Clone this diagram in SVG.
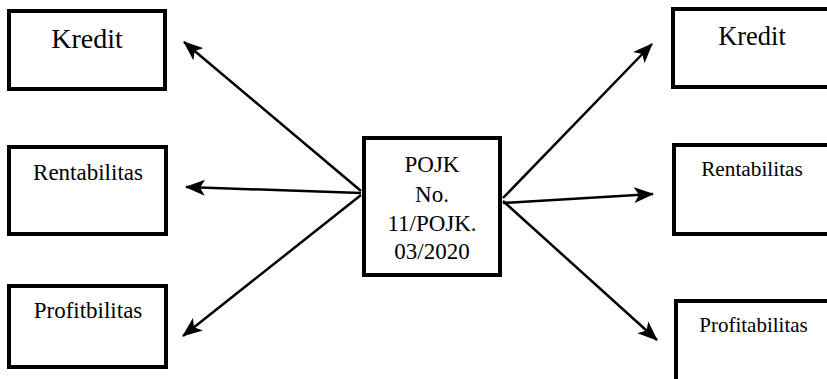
<svg xmlns="http://www.w3.org/2000/svg" width="827" height="379" viewBox="0 0 827 379">
<style>
.box{fill:#fff;stroke:#000;stroke-width:4}
text{font-family:'Liberation Serif','Times New Roman',Tinos,'DejaVu Serif',serif;fill:#000;text-anchor:middle}
.c{stroke:#000;stroke-width:2.5;fill:none;marker-end:url(#ah)}
</style>
<defs>
<marker id="ah" viewBox="0 0 20 16" refX="19" refY="8" markerWidth="20" markerHeight="16" markerUnits="userSpaceOnUse" orient="auto">
<path d="M0,0 L20,8 L0,16 L5,8 Z" fill="#000"/>
</marker>
</defs>
<rect width="827" height="379" fill="#fff"/>
<g id="connectors">
<line class="c" x1="361" y1="191" x2="184" y2="42"/>
<line class="c" x1="361" y1="193" x2="186" y2="187"/>
<line class="c" x1="361" y1="195" x2="183" y2="336"/>
<line class="c" x1="503" y1="198" x2="652" y2="44"/>
<line class="c" x1="503" y1="203" x2="653" y2="194"/>
<line class="c" x1="503" y1="201" x2="657" y2="340"/>
</g>
<g id="center">
<rect class="box" x="364" y="138" width="136" height="137"/>
<text x="432" y="172" font-size="23">POJK</text>
<text x="432" y="202" font-size="23">No.</text>
<text x="432" y="231" font-size="23">11/POJK.</text>
<text x="432" y="259" font-size="23">03/2020</text>
</g>
<g id="left-kredit">
<rect class="box" x="9" y="11" width="156" height="78"/>
<text x="87" y="48" font-size="28">Kredit</text>
</g>
<g id="left-rentabilitas">
<rect class="box" x="9" y="147" width="157" height="87"/>
<text x="88" y="180" font-size="23">Rentabilitas</text>
</g>
<g id="left-profitbilitas">
<rect class="box" x="9" y="286" width="157" height="81"/>
<text x="88" y="318" font-size="23">Profitbilitas</text>
</g>
<g id="right-kredit">
<rect class="box" x="673" y="9" width="160" height="78"/>
<text x="752" y="45" font-size="26.5">Kredit</text>
</g>
<g id="right-rentabilitas">
<rect class="box" x="674" y="145" width="160" height="89"/>
<text x="752" y="176" font-size="21.3">Rentabilitas</text>
</g>
<g id="right-profitabilitas">
<rect class="box" x="676" y="301" width="160" height="90"/>
<text x="753.5" y="332" font-size="21">Profitabilitas</text>
</g>
</svg>
